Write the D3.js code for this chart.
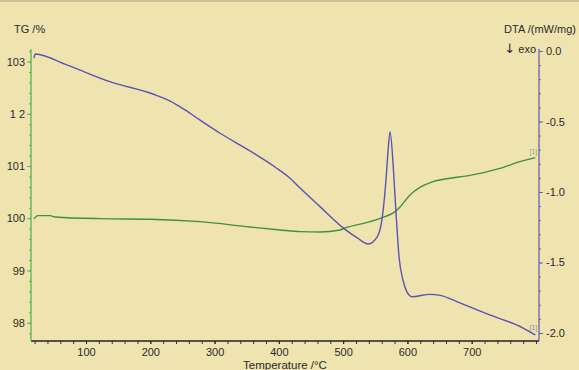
<!DOCTYPE html>
<html>
<head>
<meta charset="utf-8">
<script src="https://cdn.jsdelivr.net/npm/d3@7"></script>
<style>
  body { margin: 0; background: #efe4b0; }
  svg { display: block; font-family: "Liberation Sans", Arial, sans-serif; }
</style>
</head>
<body>
<div id="chart"></div>
<script>
// Data
// DTA curve (right axis): temperature /°C, DTA /(mW/mg)
let dta_temp = [19, 21, 70, 137, 204, 231, 254, 277, 308, 355, 394, 417, 433, 464, 500, 522, 539, 553, 561, 567, 570, 573, 578, 582, 587, 593, 599, 607, 635, 651, 677, 728, 780, 799];
let dta_val = [-0.05, -0.021, -0.099, -0.218, -0.305, -0.355, -0.418, -0.489, -0.582, -0.709, -0.823, -0.901, -0.972, -1.104, -1.255, -1.326, -1.369, -1.319, -1.177, -0.894, -0.702, -0.572, -0.823, -1.128, -1.461, -1.624, -1.707, -1.743, -1.726, -1.733, -1.778, -1.872, -1.965, -2.014];

// TG curve (left axis): temperature /°C, TG /%
let tg_temp = [19, 25, 44, 52, 122, 200, 277, 355, 402, 433, 464, 495, 503, 542, 565, 578, 589, 604, 620, 640, 666, 693, 744, 775, 799];
let tg_val = [99.987, 100.05, 100.05, 100.025, 99.992, 99.981, 99.935, 99.833, 99.776, 99.743, 99.738, 99.776, 99.814, 99.935, 100.031, 100.102, 100.222, 100.446, 100.594, 100.701, 100.766, 100.81, 100.954, 101.084, 101.161];

// Tick values and labels
let x_ticks = [100, 200, 300, 400, 500, 600, 700];
let tg_ticks = [98, 99, 100, 101, 102, 103];
let tg_labels = ["98", "99", "100", "101", "1 2", "103"];
let dta_ticks = [0, -0.5, -1, -1.5, -2];
let dta_labels = ["0.0", "-0.5", "-1.0", "-1.5", "-2.0"];

function BuildGraph(){
  let width = 579;
  let height = 370;
  let left = 31, right = 539, top = 49, bottom = 341;

  let svg = d3.select('#chart')
    .append('svg')
    .attr('width', width)
    .attr('height', height);

  svg.append('rect')
    .attr('width', width)
    .attr('height', height)
    .attr('fill', '#efe4b0');

  // thin frame line at the top
  svg.append('line')
    .attr('x1', 0).attr('x2', width)
    .attr('y1', 1).attr('y2', 1)
    .attr('stroke', '#bfb38f')
    .attr('stroke-width', 1.5);

  // Scales
  let x_scale = d3.scaleLinear().domain([14.4, 804.7]).range([left, right]);
  let tg_scale = d3.scaleLinear().domain([97.65, 103.24]).range([bottom, top]);
  let dta_scale = d3.scaleLinear().domain([-2.057, 0.014]).range([bottom, top]);

  // Curves
  let dta_data = dta_temp.map((t, i) => [t, dta_val[i]]);
  let tg_data = tg_temp.map((t, i) => [t, tg_val[i]]);

  let dta_line = d3.line()
    .x((d) => x_scale(d[0]))
    .y((d) => dta_scale(d[1]))
    .curve(d3.curveMonotoneX);
  let tg_line = d3.line()
    .x((d) => x_scale(d[0]))
    .y((d) => tg_scale(d[1]))
    .curve(d3.curveMonotoneX);

  svg.append('path')
    .datum(tg_data)
    .attr('d', tg_line)
    .attr('fill', 'none')
    .attr('stroke', '#3f923b')
    .attr('stroke-width', 1.4);

  svg.append('path')
    .datum(dta_data)
    .attr('d', dta_line)
    .attr('fill', 'none')
    .attr('stroke', '#5a52b4')
    .attr('stroke-width', 1.4);

  // Curve tags
  svg.append('text')
    .attr('x', x_scale(796)).attr('y', tg_scale(101.16) - 4)
    .attr('text-anchor', 'middle')
    .style('font-size', '7px')
    .attr('fill', '#8aa57a')
    .text('[1]');
  svg.append('text')
    .attr('x', x_scale(796)).attr('y', dta_scale(-2.01) - 4)
    .attr('text-anchor', 'middle')
    .style('font-size', '7px')
    .attr('fill', '#8f8aa8')
    .text('[1]');

  // Axes
  function style_axis(g, color){
    g.select('.domain').attr('stroke', color).attr('stroke-width', 1.3);
    g.selectAll('.tick line').attr('stroke', color);
    g.selectAll('.tick text').attr('fill', '#2a2a2a').style('font-size', '11px');
  }

  // bottom
  let x_minor = svg.append('g')
    .attr('transform', 'translate(0,' + bottom + ')')
    .call(d3.axisBottom(x_scale).tickValues(d3.range(20, 801, 20)).tickSize(3).tickFormat(''));
  x_minor.select('.domain').remove();
  x_minor.selectAll('.tick line').attr('stroke', '#333');
  let x_axis = svg.append('g')
    .attr('transform', 'translate(0,' + bottom + ')')
    .call(d3.axisBottom(x_scale).tickValues(x_ticks).tickSize(3).tickPadding(4).tickSizeOuter(0));
  style_axis(x_axis, '#222');
  x_axis.select('.domain').attr('d', 'M' + left + ',0H' + right);

  // left
  let tg_minor = svg.append('g')
    .attr('transform', 'translate(' + left + ',0)')
    .call(d3.axisLeft(tg_scale).tickValues(d3.range(97.8, 103.21, 0.2)).tickSize(2).tickFormat(''));
  tg_minor.select('.domain').remove();
  tg_minor.selectAll('.tick line').attr('stroke', '#5fae52');
  let tg_axis = svg.append('g')
    .attr('transform', 'translate(' + left + ',0)')
    .call(d3.axisLeft(tg_scale).tickValues(tg_ticks).tickSize(4).tickPadding(2).tickSizeOuter(0)
      .tickFormat((d, i) => tg_labels[i]));
  style_axis(tg_axis, '#5fae52');
  tg_axis.select('.domain').attr('d', 'M0,' + bottom + 'V' + top);

  // right
  let dta_minor = svg.append('g')
    .attr('transform', 'translate(' + right + ',0)')
    .call(d3.axisRight(dta_scale).tickValues(d3.range(-2.0, 0.01, 0.1)).tickSize(2).tickFormat(''));
  dta_minor.select('.domain').remove();
  dta_minor.selectAll('.tick line').attr('stroke', '#6a62b0');
  let dta_axis = svg.append('g')
    .attr('transform', 'translate(' + right + ',0)')
    .call(d3.axisRight(dta_scale).tickValues(dta_ticks).tickSize(4).tickPadding(3).tickSizeOuter(0)
      .tickFormat((d, i) => dta_labels[i]));
  style_axis(dta_axis, '#6a62b0');
  dta_axis.select('.domain').attr('d', 'M0,' + bottom + 'V' + top);

  // Titles
  svg.append('text')
    .attr('x', 14).attr('y', 33)
    .style('font-size', '11px')
    .attr('fill', '#2a2a2a')
    .text('TG /%');
  svg.append('text')
    .attr('x', 576).attr('y', 33)
    .attr('text-anchor', 'end')
    .style('font-size', '11px')
    .attr('fill', '#2a2a2a')
    .text('DTA /(mW/mg)');
  let exo = svg.append('text')
    .attr('x', 536).attr('y', 53)
    .attr('text-anchor', 'end')
    .style('font-size', '11px')
    .attr('fill', '#2a2a2a');
  exo.append('tspan')
    .style('font-family', '"DejaVu Sans", sans-serif')
    .style('font-size', '13px')
    .text('\u2193');
  exo.append('tspan').text(' exo');
  svg.append('text')
    .attr('x', 285).attr('y', 369)
    .attr('text-anchor', 'middle')
    .style('font-size', '11.5px')
    .attr('fill', '#2a2a2a')
    .text('Temperature /\u00b0C');
}

document.addEventListener('DOMContentLoaded', function(){
  BuildGraph();
});
</script>
</body>
</html>
